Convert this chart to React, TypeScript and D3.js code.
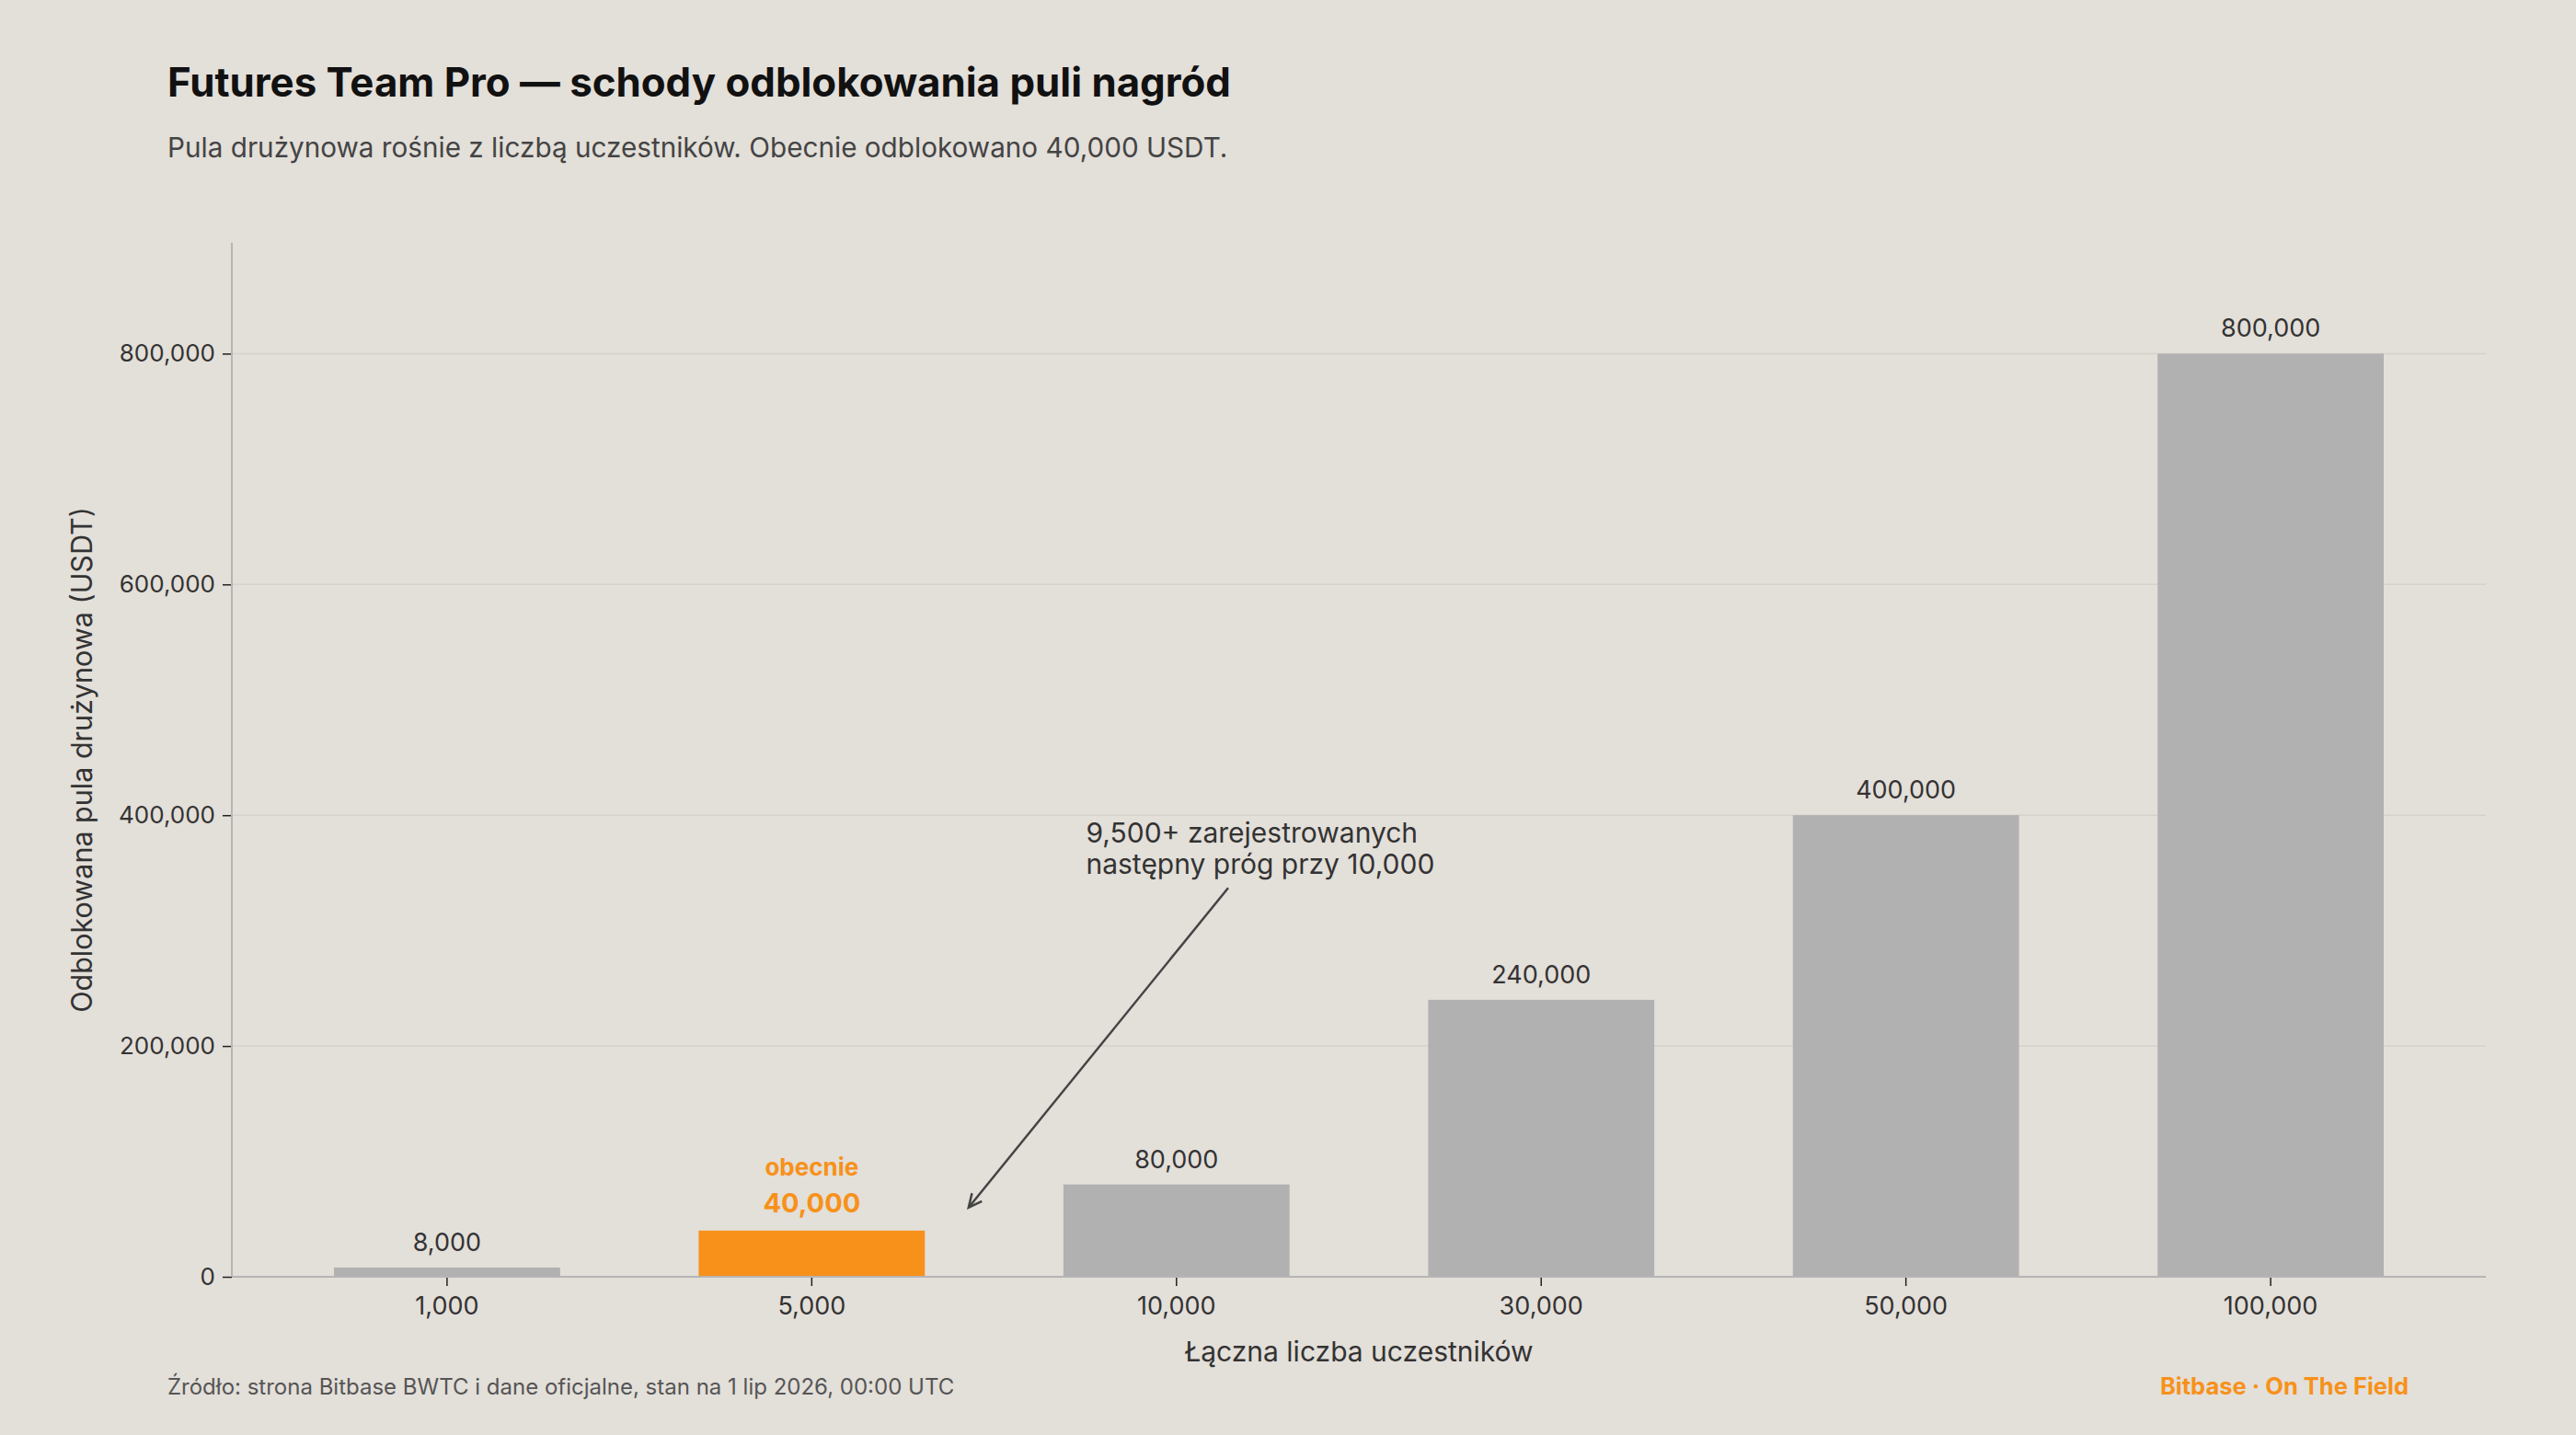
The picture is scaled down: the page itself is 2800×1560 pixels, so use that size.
import React, { useRef, useEffect } from 'react';
import * as d3 from 'd3';

// tiers: total participants -> unlocked team pool (USDT)
const participants = ['1,000', '5,000', '10,000', '30,000', '50,000', '100,000'];
const poolValues = [8000, 40000, 80000, 240000, 400000, 800000];
const yTicks = [0, 200000, 400000, 600000, 800000];
const currentTier = '5,000';
const noteLines = ['9,500+ zarejestrowanych', 'następny próg przy 10,000'];

const FONT = 'Inter, "Open Sans", sans-serif';
const BG = '#e3dfd9';
const ORANGE = '#f7911a';
const BAR = '#b1b1b1';
const INK = '#333333';

const App = () => {
  const svgRef = useRef<SVGSVGElement>(null);

  useEffect(() => {
    document.body.style.margin = '0';
    document.body.style.background = BG;

    const W = 2800;
    const H = 1560;
    const margin = { top: 264, right: 98, bottom: 172, left: 252 };
    const width = W - margin.left - margin.right;
    const height = H - margin.top - margin.bottom;

    const root = d3.select(svgRef.current);
    root.selectAll('*').remove();
    root.attr('width', W).attr('height', H).style('display', 'block');

    root.append('rect').attr('width', W).attr('height', H).attr('fill', BG);

    // header
    root
      .append('text')
      .attr('x', 182)
      .attr('y', 105)
      .attr('font-family', FONT)
      .attr('font-weight', 700)
      .attr('font-size', 43.8)
      .attr('fill', '#111')
      .text('Futures Team Pro — schody odblokowania puli nagród');

    root
      .append('text')
      .attr('x', 182)
      .attr('y', 171)
      .attr('font-family', FONT)
      .attr('font-size', 29.7)
      .attr('fill', '#444')
      .text('Pula drużynowa rośnie z liczbą uczestników. Obecnie odblokowano 40,000 USDT.');

    const g = root.append('g').attr('transform', `translate(${margin.left},${margin.top})`);

    const x = d3.scaleBand().domain(participants).range([0, width]).paddingInner(0.38).paddingOuter(0.28);
    const y = d3.scaleLinear().domain([0, 896000]).range([height, 0]);

    // horizontal grid
    g.append('g')
      .selectAll('line')
      .data(yTicks.filter((d) => d > 0))
      .join('line')
      .attr('x1', 0)
      .attr('x2', width)
      .attr('y1', (d) => y(d))
      .attr('y2', (d) => y(d))
      .attr('stroke', '#d5d1cb')
      .attr('stroke-width', 1.5);

    const data = participants.map((p, i) => ({ p, v: poolValues[i] }));

    g.append('g')
      .selectAll('rect')
      .data(data)
      .join('rect')
      .attr('x', (d) => x(d.p)!)
      .attr('width', x.bandwidth())
      .attr('y', (d) => y(d.v))
      .attr('height', (d) => height - y(d.v))
      .attr('fill', (d) => (d.p === currentTier ? ORANGE : BAR));

    // value labels
    g.append('g')
      .selectAll('text')
      .data(data.filter((d) => d.p !== currentTier))
      .join('text')
      .attr('x', (d) => x(d.p)! + x.bandwidth() / 2)
      .attr('y', (d) => y(d.v) - 18)
      .attr('text-anchor', 'middle')
      .attr('font-family', FONT)
      .attr('font-size', 27)
      .attr('fill', INK)
      .text((d) => d3.format(',')(d.v));

    const cur = data.find((d) => d.p === currentTier)!;
    const cx = x(cur.p)! + x.bandwidth() / 2;
    g.append('text')
      .attr('x', cx)
      .attr('y', y(cur.v) - 20)
      .attr('text-anchor', 'middle')
      .attr('font-family', FONT)
      .attr('font-weight', 700)
      .attr('font-size', 29)
      .attr('fill', ORANGE)
      .text(d3.format(',')(cur.v));
    g.append('text')
      .attr('x', cx)
      .attr('y', y(cur.v) - 60)
      .attr('text-anchor', 'middle')
      .attr('font-family', FONT)
      .attr('font-weight', 700)
      .attr('font-size', 26)
      .attr('fill', ORANGE)
      .text('obecnie');

    // axes
    const yAxis = g
      .append('g')
      .call(d3.axisLeft(y).tickValues(yTicks).tickFormat(d3.format(',') as any).tickSize(10).tickPadding(8));
    yAxis.select('.domain').remove();
    yAxis.selectAll('.tick line').attr('stroke', '#222').attr('stroke-width', 1.5);
    yAxis.selectAll('text').attr('font-family', FONT).attr('font-size', 26).attr('fill', INK);

    const xAxis = g
      .append('g')
      .attr('transform', `translate(0,${height})`)
      .call(d3.axisBottom(x).tickSize(10).tickPadding(12));
    xAxis.select('.domain').remove();
    xAxis.selectAll('.tick line').attr('stroke', '#222').attr('stroke-width', 1.5);
    xAxis.selectAll('text').attr('font-family', FONT).attr('font-size', 27).attr('fill', INK);

    // spines
    g.append('line')
      .attr('x1', 0)
      .attr('x2', 0)
      .attr('y1', 0)
      .attr('y2', height)
      .attr('stroke', '#b5b5b5')
      .attr('stroke-width', 2);
    g.append('line')
      .attr('x1', 0)
      .attr('x2', width)
      .attr('y1', height)
      .attr('y2', height)
      .attr('stroke', '#b5b5b5')
      .attr('stroke-width', 2);

    // axis titles
    g.append('text')
      .attr('x', width / 2)
      .attr('y', height + 92)
      .attr('text-anchor', 'middle')
      .attr('font-family', FONT)
      .attr('font-size', 30)
      .attr('fill', INK)
      .text('Łączna liczba uczestników');

    g.append('text')
      .attr('transform', `translate(${-152},${height / 2}) rotate(-90)`)
      .attr('text-anchor', 'middle')
      .attr('font-family', FONT)
      .attr('font-size', 30.5)
      .attr('fill', INK)
      .text('Odblokowana pula drużynowa (USDT)');

    // annotation: text in data coords (band index, value), arrow to a point beside the current bar
    const xi = (i: number) => x(participants[0])! + x.bandwidth() / 2 + i * x.step();
    const noteX = xi(1.752);
    const noteY = y(376000);
    const tipX = xi(1.43);
    const tipY = y(60000);

    const note = g
      .append('text')
      .attr('x', noteX)
      .attr('y', noteY)
      .attr('font-family', FONT)
      .attr('font-size', 30)
      .attr('fill', INK);
    noteLines.forEach((t, i) => {
      note.append('tspan').attr('x', noteX).attr('dy', i === 0 ? 0 : 34).text(t);
    });

    const bb = (note.node() as SVGTextElement).getBBox();
    const ncx = bb.x + bb.width / 2;
    const ncy = bb.y + bb.height / 2;
    const startY = bb.y + bb.height + 8;
    const t = (startY - ncy) / (tipY - ncy);
    const startX = ncx + (tipX - ncx) * t;

    const ang = Math.atan2(tipY - startY, tipX - startX);
    const head = 16;
    const spread = 0.45;
    g.append('line')
      .attr('x1', startX)
      .attr('y1', startY)
      .attr('x2', tipX)
      .attr('y2', tipY)
      .attr('stroke', '#444')
      .attr('stroke-width', 2.5);
    g.append('path')
      .attr(
        'd',
        `M${tipX - head * Math.cos(ang - spread)},${tipY - head * Math.sin(ang - spread)}L${tipX},${tipY}L${
          tipX - head * Math.cos(ang + spread)
        },${tipY - head * Math.sin(ang + spread)}`
      )
      .attr('fill', 'none')
      .attr('stroke', '#444')
      .attr('stroke-width', 2.5);

    // footer
    root
      .append('text')
      .attr('x', 182)
      .attr('y', 1516)
      .attr('font-family', FONT)
      .attr('font-size', 24)
      .attr('fill', '#555')
      .text('Źródło: strona Bitbase BWTC i dane oficjalne, stan na 1 lip 2026, 00:00 UTC');

    root
      .append('text')
      .attr('x', 2618)
      .attr('y', 1516)
      .attr('text-anchor', 'end')
      .attr('font-family', FONT)
      .attr('font-weight', 700)
      .attr('font-size', 25.5)
      .attr('fill', ORANGE)
      .text('Bitbase · On The Field');
  }, []);

  return <svg ref={svgRef}></svg>;
};

export default App;
